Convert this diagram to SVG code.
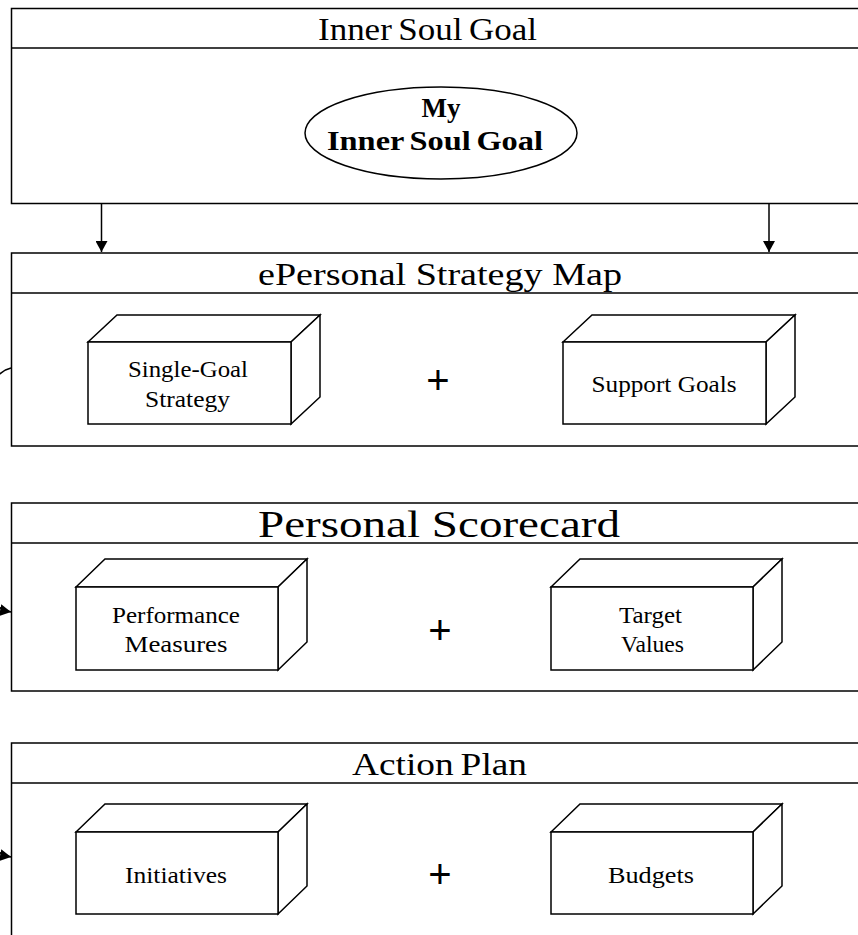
<svg xmlns="http://www.w3.org/2000/svg" width="858" height="935" viewBox="0 0 858 935">
<defs>
<marker id="arr" markerWidth="12" markerHeight="12" refX="11" refY="6" orient="auto" markerUnits="userSpaceOnUse">
<path d="M0,0 L11,6 L0,12 Z" fill="#000"/>
</marker>
<style>
.frame{fill:#fff;stroke:#000;stroke-width:1.5}
.line{fill:none;stroke:#000;stroke-width:1.5}
.face{fill:#fff;stroke:#000;stroke-width:1.5;stroke-linejoin:miter}
.title{font-family:"Liberation Serif","Times New Roman",serif;font-size:32px;text-anchor:middle;fill:#000}
.lbl{font-family:"Liberation Serif","Times New Roman",serif;font-size:23px;text-anchor:middle;fill:#000}
.bold{font-family:"Liberation Serif","Times New Roman",serif;font-size:27px;font-weight:bold;text-anchor:middle;fill:#000}
.plus{font-family:"Liberation Sans",Arial,sans-serif;font-size:40px;text-anchor:middle;fill:#000}
</style>
</defs>
<rect width="858" height="935" fill="#fff"/>

<g id="inner-soul-goal">
<rect class="frame" x="11.5" y="8.5" width="870" height="195"/>
<line class="line" x1="11.5" y1="48" x2="881" y2="48"/>
<text class="title" x="427.5" y="40" style="word-spacing:-2px" textLength="219" lengthAdjust="spacingAndGlyphs">Inner Soul Goal</text>
<ellipse class="face" cx="441" cy="133" rx="136" ry="46"/>
<text class="bold" x="441" y="117">My</text>
<text class="bold" x="435" y="150" style="word-spacing:-2px" textLength="216" lengthAdjust="spacingAndGlyphs">Inner Soul Goal</text>
</g>

<g id="strategy-map">
<rect class="frame" x="11.5" y="253" width="870" height="193"/>
<line class="line" x1="11.5" y1="293" x2="881" y2="293"/>
<text class="title" x="440" y="285" textLength="364" lengthAdjust="spacingAndGlyphs">ePersonal Strategy Map</text>
<g id="single-goal-strategy">
<path class="face" d="M88,342 L117,315 L320,315 L291,342 Z"/>
<path class="face" d="M291,342 L320,315 L320,397 L291,424 Z"/>
<rect class="face" x="88" y="342" width="203" height="82"/>
<text class="lbl" x="188" y="377" textLength="120" lengthAdjust="spacingAndGlyphs">Single-Goal</text>
<text class="lbl" x="187.5" y="407" textLength="85" lengthAdjust="spacingAndGlyphs">Strategy</text>
</g>
<text class="plus" x="438" y="394">+</text>
<g id="support-goals">
<path class="face" d="M563,342 L592,315 L795,315 L766,342 Z"/>
<path class="face" d="M766,342 L795,315 L795,397 L766,424 Z"/>
<rect class="face" x="563" y="342" width="203" height="82"/>
<text class="lbl" x="664" y="392" textLength="145" lengthAdjust="spacingAndGlyphs">Support Goals</text>
</g>
</g>

<g id="personal-scorecard">
<rect class="frame" x="11.5" y="503" width="870" height="188"/>
<line class="line" x1="11.5" y1="543" x2="881" y2="543"/>
<text class="title" x="439" y="537" style="font-size:38px" textLength="362" lengthAdjust="spacingAndGlyphs">Personal Scorecard</text>
<g id="performance-measures">
<path class="face" d="M76,587 L105,559 L307,559 L278,587 Z"/>
<path class="face" d="M278,587 L307,559 L307,642 L278,670 Z"/>
<rect class="face" x="76" y="587" width="202" height="83"/>
<text class="lbl" x="176" y="623" textLength="128" lengthAdjust="spacingAndGlyphs">Performance</text>
<text class="lbl" x="176" y="652" textLength="103" lengthAdjust="spacingAndGlyphs">Measures</text>
</g>
<text class="plus" x="440" y="644">+</text>
<g id="target-values">
<path class="face" d="M551,587 L580,559 L782,559 L753,587 Z"/>
<path class="face" d="M753,587 L782,559 L782,642 L753,670 Z"/>
<rect class="face" x="551" y="587" width="202" height="83"/>
<text class="lbl" x="650.5" y="623" textLength="63" lengthAdjust="spacingAndGlyphs">Target</text>
<text class="lbl" x="652.5" y="652" textLength="63" lengthAdjust="spacingAndGlyphs">Values</text>
</g>
</g>

<g id="action-plan">
<rect class="frame" x="11.5" y="743" width="870" height="200"/>
<line class="line" x1="11.5" y1="783" x2="881" y2="783"/>
<text class="title" x="439.5" y="775" style="word-spacing:-2px" textLength="175" lengthAdjust="spacingAndGlyphs">Action Plan</text>
<g id="initiatives">
<path class="face" d="M76,832 L105,804 L307,804 L278,832 Z"/>
<path class="face" d="M278,832 L307,804 L307,886 L278,914 Z"/>
<rect class="face" x="76" y="832" width="202" height="82"/>
<text class="lbl" x="176" y="883" textLength="102" lengthAdjust="spacingAndGlyphs">Initiatives</text>
</g>
<text class="plus" x="440" y="888">+</text>
<g id="budgets">
<path class="face" d="M551,832 L580,804 L782,804 L753,832 Z"/>
<path class="face" d="M753,832 L782,804 L782,886 L753,914 Z"/>
<rect class="face" x="551" y="832" width="202" height="82"/>
<text class="lbl" x="651" y="883" textLength="86" lengthAdjust="spacingAndGlyphs">Budgets</text>
</g>
</g>

<g id="connectors">
<line class="line" x1="101.5" y1="203.5" x2="101.5" y2="252" marker-end="url(#arr)"/>
<line class="line" x1="769" y1="203.5" x2="769" y2="252" marker-end="url(#arr)"/>
<path class="line" d="M11,368 C2,370 -6,378 -12,390 L-12,590 C-8,604 0,610 11,612" marker-end="url(#arr)"/>
<path class="line" d="M-12,590 L-12,835 C-8,849 0,855 11,857" marker-end="url(#arr)"/>
</g>
</svg>
